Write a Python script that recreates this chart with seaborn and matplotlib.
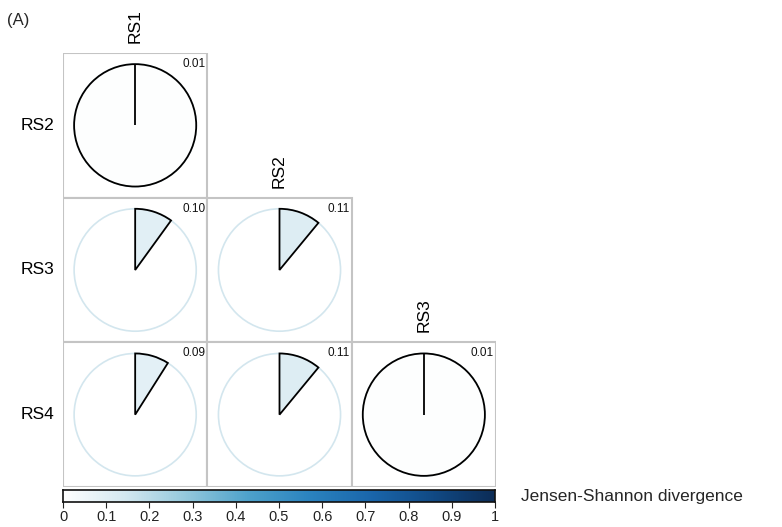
import numpy as np
import matplotlib
matplotlib.use("Agg")
import matplotlib.pyplot as plt
from matplotlib.patches import Wedge, Circle, Rectangle
import seaborn as sns

sns.set_theme(style="white")
plt.rcParams["font.family"] = ["Liberation Sans", "DejaVu Sans"]

# Pairwise Jensen-Shannon divergences (lower triangle)
row_labels = ["RS2", "RS3", "RS4"]
col_labels = ["RS1", "RS2", "RS3"]
jsd_rs2 = [0.01]
jsd_rs3 = [0.10, 0.11]
jsd_rs4 = [0.09, 0.11, 0.01]
jsd_rows = [jsd_rs2, jsd_rs3, jsd_rs4]
cbar_ticks = [0, 0.1, 0.2, 0.3, 0.4, 0.5, 0.6, 0.7, 0.8, 0.9, 1]
cbar_ticklabels = ["0", "0.1", "0.2", "0.3", "0.4", "0.5", "0.6", "0.7", "0.8", "0.9", "1"]

cmap = sns.blend_palette(
    ["#ffffff", "#d3e8f0", "#93c8dc", "#4ea2cb", "#2b83bf", "#1a66ab",
     "#114a85", "#0c2c56"], as_cmap=True)

W, H = 782, 527
fig = plt.figure(figsize=(W / 100, H / 100), dpi=100)

def px_axes(x0, y0, x1, y1):
    return fig.add_axes([x0 / W, 1 - y1 / H, (x1 - x0) / W, (y1 - y0) / H])

ax = px_axes(63, 53, 496, 487)
ax.set_xlim(0, 3)
ax.set_ylim(3, 0)
ax.axis("off")

radius = 0.423
grid_color = "#c4c4c4"
ring_color = "#d3e6ee"

for i, vals in enumerate(jsd_rows):
    for j, v in enumerate(vals):
        ax.add_patch(Rectangle((j, i), 1, 1, facecolor="white",
                               edgecolor=grid_color, lw=1.5, zorder=1))
        cx, cy = j + 0.5, i + 0.5
        ax.add_patch(Circle((cx, cy), radius, fill=False,
                            edgecolor=ring_color, lw=1.2, zorder=2))
        span = 360 * v
        if span < 5:
            # near-zero divergence: the slice wraps into a closed outline
            ax.add_patch(Circle((cx, cy), radius, facecolor=cmap(v),
                                edgecolor="black", lw=1.3, zorder=3))
            ax.plot([cx, cx], [cy, cy - radius], color="black", lw=1.3,
                    solid_capstyle="butt", zorder=4)
        else:
            # y axis is inverted, so draw clockwise from the top
            ax.add_patch(Wedge((cx, cy), radius, 270, 270 + span,
                               facecolor=cmap(v), edgecolor="black",
                               lw=1.3, zorder=3))
        ax.text(j + 0.985, i + 0.035, f"{v:.2f}", ha="right", va="top",
                fontsize=8.5, color="#111111", zorder=5)

for i, lab in enumerate(row_labels):
    ax.text(-0.06, i + 0.5, lab, ha="right", va="center", fontsize=12.5,
            color="black")
for j, lab in enumerate(col_labels):
    ax.text(j + 0.5, j - 0.07, lab, ha="center", va="bottom", rotation=90,
            fontsize=12.5, color="black")

fig.text(7 / W, 1 - 20 / H, "(A)", ha="left", va="center", fontsize=12)

# Colour bar
cax = px_axes(63, 490, 495, 502)
grad = np.linspace(0, 1, 512).reshape(1, -1)
cax.imshow(grad, aspect="auto", cmap=cmap, extent=[0, 1, 0, 1])
cax.set_xlim(0, 1)
cax.set_yticks([])
cax.set_xticks(cbar_ticks)
cax.set_xticklabels(cbar_ticklabels, fontsize=10.5, color="#222222")
cax.tick_params(axis="x", direction="out", length=4, width=0.8,
                color="#222222", pad=2, bottom=True)
for s in cax.spines.values():
    s.set_visible(True)
    s.set_color("#111111")
    s.set_linewidth(1.2)

fig.text(521 / W, 1 - 497 / H, "Jensen-Shannon divergence", ha="left",
         va="center", fontsize=12.5)

fig.savefig("out.png", dpi=100, facecolor="white")
